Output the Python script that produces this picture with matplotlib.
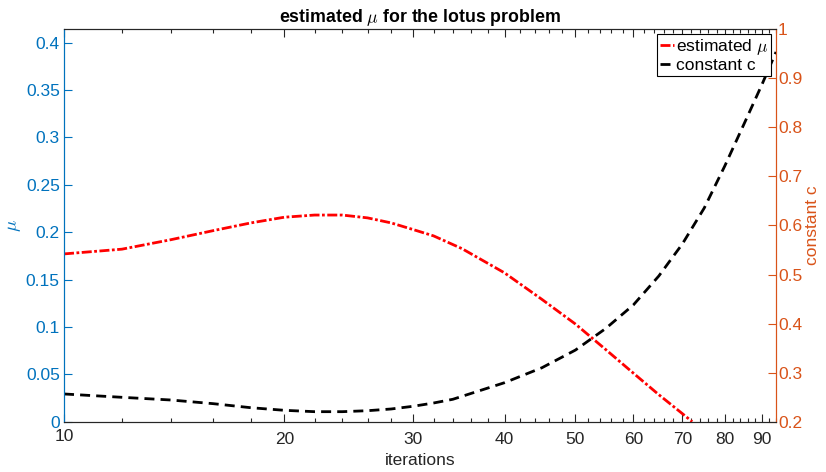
import numpy as np
import matplotlib
matplotlib.use("Agg")
import matplotlib.pyplot as plt
from matplotlib.ticker import FixedLocator, FixedFormatter, NullFormatter

plt.rcParams['font.family'] = ['Liberation Sans', 'DejaVu Sans']
plt.rcParams['mathtext.fontset'] = 'cm'

# estimated mu per iteration (left axis)
iters_mu = [10, 12, 14, 16, 18, 20, 22, 24, 26, 28, 30, 32, 35, 40, 45, 50, 55, 60, 65, 70, 72.2]
mu = [0.177, 0.182, 0.192, 0.2016, 0.2097, 0.2157, 0.218, 0.218, 0.215, 0.2097, 0.2027,
      0.196, 0.1825, 0.157, 0.129, 0.103, 0.0761, 0.0512, 0.0285, 0.0085, 0.0]

# constant c per iteration (right axis)
iters_c = [10, 12, 14, 16, 18, 20, 22, 24, 26, 28, 30, 32, 34, 40, 45, 50, 55, 60, 65, 70,
           75, 80, 85, 90, 94]
const_c = [0.2565, 0.2497, 0.2442, 0.2367, 0.2285, 0.2232, 0.2204, 0.2204, 0.2224, 0.2259,
           0.2314, 0.2381, 0.2457, 0.2795, 0.310, 0.346, 0.390, 0.438, 0.497, 0.5623,
           0.6357, 0.7213, 0.807, 0.8885, 0.9537]

x_labels = [10, 20, 30, 40, 50, 60, 70, 80, 90]
x_minor = list(range(12, 95, 2))

blue = '#0072BD'
orange = '#D95319'
dark = '#262626'
fs = 12.5

fig = plt.figure(figsize=(8.26, 4.72), dpi=100)
ax = fig.add_axes([0.0775, 0.1066, 0.862, 0.8314])
ax2 = ax.twinx()

l1, = ax.plot(iters_mu, mu, color='red', lw=2, linestyle=(0, (3.6, 0.9, 1.0, 0.9)),
              label=r'estimated $\mu$')
l2, = ax2.plot(iters_c, const_c, color='black', lw=2, linestyle=(0, (3.6, 2.2)),
               label='constant c')

ax.set_xscale('log')
ax.set_xlim(10, 94)
ax.set_ylim(0, 0.414)
ax2.set_ylim(0.2, 1.0)

# first decade label sits a little higher, drawn separately
ax.xaxis.set_major_locator(FixedLocator(x_labels))
ax.xaxis.set_major_formatter(FixedFormatter([''] + [str(v) for v in x_labels[1:]]))
ax.xaxis.set_minor_locator(FixedLocator([v for v in x_minor if v not in x_labels]))
ax.xaxis.set_minor_formatter(NullFormatter())
ax.annotate(str(x_labels[0]), xy=(x_labels[0], 0), xycoords=('data', 'axes fraction'),
            xytext=(0, -5), textcoords='offset points', ha='center', va='top',
            fontsize=fs, color=dark)

ax.set_yticks(np.arange(0, 0.41, 0.05))
ax.set_yticklabels(['0', '0.05', '0.1', '0.15', '0.2', '0.25', '0.3', '0.35', '0.4'])
ax2.set_yticks(np.arange(0.2, 1.01, 0.1))
ax2.set_yticklabels(['0.2', '0.3', '0.4', '0.5', '0.6', '0.7', '0.8', '0.9', '1'])

ax.tick_params(axis='x', which='major', direction='in', length=6, width=0.8, color=dark,
               labelcolor=dark, labelsize=fs, top=True, pad=7.5)
ax.tick_params(axis='x', which='minor', direction='in', length=3.2, width=0.8, color=dark, top=True)
ax.tick_params(axis='y', which='both', direction='in', length=5.5, width=0.8, color=blue,
               labelcolor=blue, labelsize=fs, pad=3)
ax2.tick_params(axis='y', which='both', direction='in', length=5.5, width=0.8, color=orange,
                labelcolor=orange, labelsize=fs, pad=1.5)

for a in (ax, ax2):
    a.spines['top'].set_color(dark)
    a.spines['bottom'].set_color(dark)
    a.spines['left'].set_color(blue)
    a.spines['right'].set_color(orange)
    for s in a.spines.values():
        s.set_linewidth(0.8)

ax.set_xlabel('iterations', fontsize=fs, color=dark, labelpad=4)
ax.set_ylabel(r'$\mu$', fontsize=fs + 1, color=blue, labelpad=2)
ax2.set_ylabel('constant c', fontsize=fs, color=orange, labelpad=2)
ax.set_title(r'estimated $\mu$ for the lotus problem', fontsize=12.8, fontweight='bold', pad=5)

leg = ax2.legend(handles=[l1, l2], loc='upper right', bbox_to_anchor=(0.993, 0.988),
                 borderaxespad=0, fontsize=fs, frameon=True, fancybox=False,
                 handlelength=0.8, handletextpad=0.15, borderpad=0.15, labelspacing=0.1)
leg.get_frame().set_edgecolor('black')
leg.get_frame().set_linewidth(0.8)
leg.get_frame().set_alpha(1)

fig.savefig('out.png', dpi=100)
